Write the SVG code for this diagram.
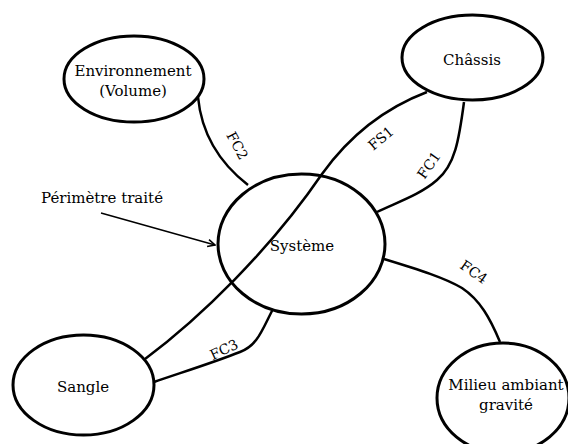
<svg xmlns="http://www.w3.org/2000/svg" width="568" height="444" viewBox="0 0 568 444">
<defs>
<style>
.node{fill:#fff;stroke:#000;stroke-width:3}
.t{font-family:"DejaVu Serif","Liberation Serif",serif;font-size:15px;fill:#000;text-anchor:middle}
.lab{font-family:"DejaVu Serif","Liberation Serif",serif;font-size:14px;fill:#000;text-anchor:middle}
.c{fill:none;stroke:#000;stroke-width:2.5}
.ar{fill:none;stroke:#000;stroke-width:1.3}
</style>
<marker id="arr" viewBox="0 0 10 10" refX="9" refY="5" markerWidth="9" markerHeight="9" markerUnits="userSpaceOnUse" orient="auto">
<path d="M1,1 L9,5 L1,9" fill="none" stroke="#000" stroke-width="1.8"/>
</marker>
</defs>
<rect width="568" height="444" fill="#fff"/>
<g id="connectors">
<path class="c" d="M198,97 Q203,150 248,185"/>
<path class="c" d="M145,359 C200,318 270,250 322,174 C350,135 385,108 427,92"/>
<path class="c" d="M464,102 C459,140 455,165 437,180 C420,195 395,203 377,212"/>
<path class="c" d="M273,309 C262,330 258,345 240,352 C215,362 180,373 154,382"/>
<path class="c" d="M384,259 C420,270 445,278 462,288 C480,300 490,318 500,342"/>
<line class="ar" x1="101" y1="213" x2="215" y2="245" marker-end="url(#arr)"/>
<text class="lab" transform="translate(233,148) rotate(62)">FC2</text>
<text class="lab" transform="translate(384,142) rotate(-40)">FS1</text>
<text class="lab" transform="translate(433,168) rotate(-55)">FC1</text>
<text class="lab" transform="translate(226,354) rotate(-25)">FC3</text>
<text class="lab" transform="translate(471,276) rotate(35)">FC4</text>
</g>
<g id="environnement">
<ellipse class="node" cx="134" cy="79" rx="70" ry="43"/>
<text class="t" x="133" y="76">Environnement</text>
<text class="t" x="133" y="96">(Volume)</text>
</g>
<g id="chassis">
<ellipse class="node" cx="472.5" cy="57.5" rx="70.5" ry="42.5"/>
<text class="t" x="472" y="65">Châssis</text>
</g>
<g id="systeme">
<ellipse cx="301.5" cy="244" rx="83.5" ry="70" fill="none" stroke="#000" stroke-width="3"/>
<text class="t" x="302" y="251">Système</text>
</g>
<g id="sangle">
<ellipse class="node" cx="83.5" cy="385" rx="70.5" ry="50"/>
<text class="t" x="83" y="392">Sangle</text>
</g>
<g id="milieu">
<ellipse class="node" cx="503" cy="398" rx="66" ry="55"/>
<text class="t" x="506" y="390">Milieu ambiant</text>
<text class="t" x="506" y="410">gravité</text>
</g>
<g id="perimetre">
<text class="t" x="102" y="203">Périmètre traité</text>
</g>
</svg>
